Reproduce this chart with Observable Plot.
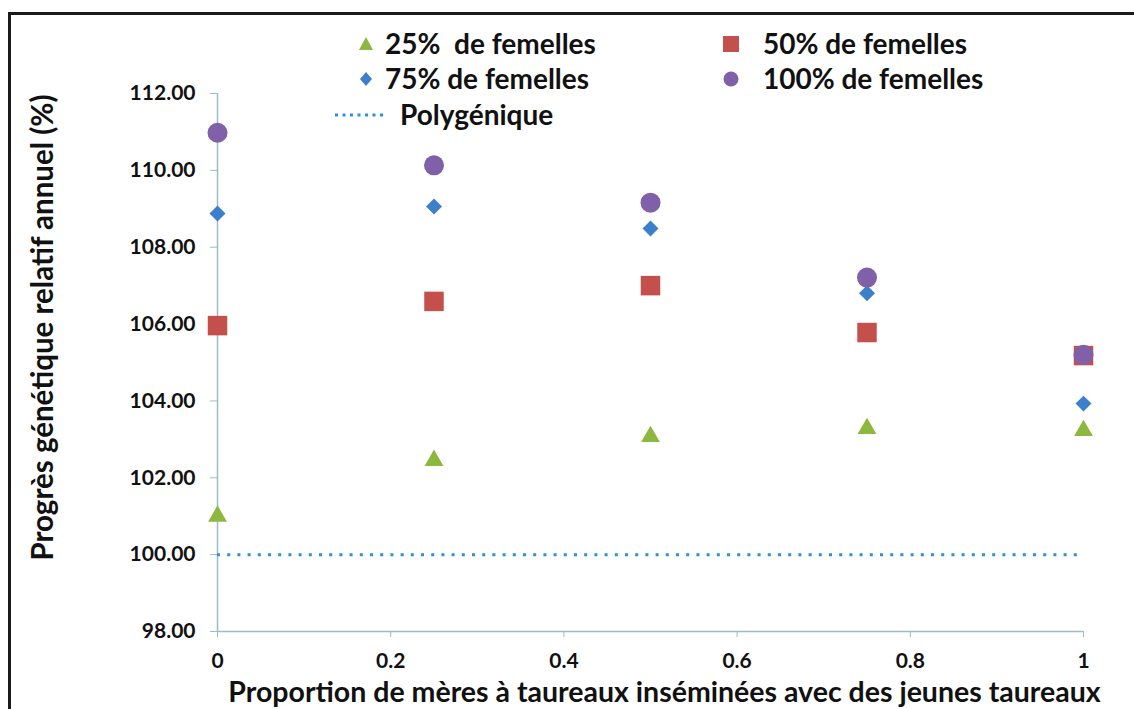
<!DOCTYPE html>
<html>
<head>
<meta charset="utf-8">
<script src="https://cdn.jsdelivr.net/npm/d3@7"></script>
<script src="https://cdn.jsdelivr.net/npm/@observablehq/plot@0.6"></script>
<style>
  html, body { margin: 0; padding: 0; background: #fff; }
  body { width: 1134px; height: 709px; position: relative; overflow: hidden; font-family: Lato, "Open Sans", sans-serif; }
  #frame { position: absolute; left: 8px; top: 12px; width: 1140px; height: 720px; border: 3px solid #1a1a1a; box-sizing: border-box; }
  #chart { position: absolute; left: 0; top: 0; }
  .leg { position: absolute; font-weight: 700; font-size: 28px; color: #111; white-space: pre; line-height: 1; }
  .legsym { position: absolute; }
</style>
</head>
<body>
<div id="frame"></div>
<div id="chart"></div>
<div id="legend"></div>
<script>
// Data
const proportions = [0, 0.25, 0.5, 0.75, 1];
const femelles25 = [101.0, 102.45, 103.07, 103.28, 103.23];
const femelles50 = [105.96, 106.59, 107.0, 105.78, 105.18];
const femelles75 = [108.88, 109.06, 108.49, 106.8, 103.93];
const femelles100 = [110.98, 110.13, 109.16, 107.21, 105.2];
const polygenique = 100;
const seriesNames = ["25%  de femelles", "50% de femelles", "75% de femelles", "100% de femelles", "Polygénique"];
const xTicks = [0, 0.2, 0.4, 0.6, 0.8, 1];
const yTicks = [98, 100, 102, 104, 106, 108, 110, 112];
const xLabel = "Proportion de mères à taureaux inséminées avec des jeunes taureaux";
const yLabel = "Progrès génétique relatif annuel (%)";

const colors = { g: "#8DB83F", r: "#C3504B", b: "#3C7FCB", p: "#8060A8", line: "#2A93D8" };
const toRows = (vals) => proportions.map((x, i) => ({ x, y: vals[i] }));

const axisColor = "#9DBBCB";
const chart = Plot.plot({
  width: 1134,
  height: 709,
  marginLeft: 217,
  marginRight: 51,
  marginTop: 93,
  marginBottom: 78,
  style: { fontFamily: "Lato, 'Open Sans', sans-serif", fontWeight: 700, fontSize: "21px", color: "#1a1a1a", background: "transparent", overflow: "visible" },
  x: { domain: [0, 1] },
  y: { domain: [98, 112] },
  marks: [
    Plot.ruleX([0], { stroke: axisColor, strokeWidth: 1.5 }),
    Plot.ruleY([98], { stroke: axisColor, strokeWidth: 1.5 }),
    Plot.axisX({ ticks: xTicks, tickSize: 6, tickPadding: 16, stroke: axisColor, label: null, tickFormat: d => String(d), fontSize: 21, fill: "#111" }),
    Plot.axisY({ ticks: yTicks, tickSize: 7, tickPadding: 15, stroke: axisColor, label: null, tickFormat: d3.format(".2f"), fontSize: 21, fill: "#111" }),
    Plot.ruleY([polygenique], { x1: 0, x2: 1, stroke: colors.line, strokeWidth: 3, strokeDasharray: "3,7.2" }),
    Plot.dot(toRows(femelles25), { x: "x", y: "y", symbol: "triangle", r: 7, fill: colors.g }),
    Plot.dot(toRows(femelles50), { x: "x", y: "y", symbol: "square", r: 11, fill: colors.r }),
    Plot.dot(toRows(femelles75), { x: "x", y: "y", symbol: "diamond2", r: 7.2, fill: colors.b }),
    Plot.dot(toRows(femelles100), { x: "x", y: "y", symbol: "circle", r: 10, fill: colors.p }),
    Plot.text([xLabel], { frameAnchor: "bottom", lineAnchor: "middle", dy: 61, dx: 14, fontSize: 28.5, fontWeight: 700, fill: "#111" }),
    Plot.text([yLabel], { frameAnchor: "left", textAnchor: "middle", lineAnchor: "middle", dx: -174, dy: -35, rotate: -90, fontSize: 29.5, fontWeight: 700, fill: "#111" })
  ]
});
document.getElementById("chart").appendChild(chart);

// Legend (HTML overlay above plot area)
const legend = document.getElementById("legend");
function sym(kind, color, cx, cy) {
  const s = 24;
  let inner = "";
  if (kind === "triangle") inner = `<path d="M12,5 L19,18 L5,18 Z" fill="${color}"/>`;
  if (kind === "square") inner = `<rect x="4" y="4" width="16" height="16" fill="${color}"/>`;
  if (kind === "diamond") inner = `<path d="M12,5 L18,12 L12,19 L6,12 Z" fill="${color}"/>`;
  if (kind === "circle") inner = `<circle cx="12" cy="12" r="7.5" fill="${color}"/>`;
  if (kind === "line") inner = `<line x1="0" y1="12" x2="52" y2="12" stroke="${color}" stroke-width="3" stroke-dasharray="3,4.5"/>`;
  const w = kind === "line" ? 52 : s;
  const el = document.createElement("div");
  el.className = "legsym";
  el.style.left = (cx - (kind === "line" ? 0 : 12)) + "px";
  el.style.top = (cy - 12) + "px";
  el.innerHTML = `<svg width="${w}" height="${s}">${inner}</svg>`;
  legend.appendChild(el);
}
function label(text, x, cy) {
  const el = document.createElement("div");
  el.className = "leg";
  el.textContent = text;
  el.style.left = x + "px";
  el.style.top = (cy - 15) + "px";
  legend.appendChild(el);
}
sym("triangle", colors.g, 366, 44); label(seriesNames[0], 385, 44);
sym("square", colors.r, 731, 44); label(seriesNames[1], 763, 44);
sym("diamond", colors.b, 366, 79); label(seriesNames[2], 385, 79);
sym("circle", colors.p, 731, 79); label(seriesNames[3], 763, 79);
sym("line", colors.line, 335, 115); label(seriesNames[4], 400, 115);
</script>
</body>
</html>
